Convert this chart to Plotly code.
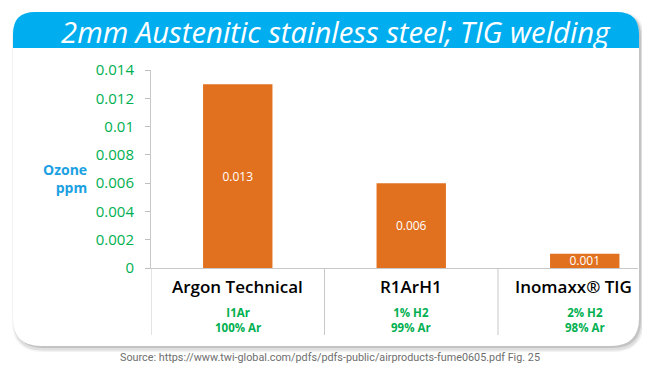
import plotly.graph_objects as go

categories = ["Argon Technical", "R1ArH1", "Inomaxx® TIG"]
sub_line1 = ["I1Ar", "1% H2", "2% H2"]
sub_line2 = ["100% Ar", "99% Ar", "98% Ar"]
ozone_ppm = [0.013, 0.006, 0.001]
bar_labels = ["0.013", "0.006", "0.001"]
y_ticks = [0, 0.002, 0.004, 0.006, 0.008, 0.01, 0.012, 0.014]
y_ticktext = ["0", "0.002", "0.004", "0.006", "0.008", "0.01", "0.012", "0.014"]

OFF = 8  # page body margin
W, H = 650 - OFF, 376 - OFF
PL, PR, PT, PB = 151, 638, 70, 268
L, R, T, B = PL - OFF, PR - OFF, PT - OFF, PB - OFF

def px(x):
    return (x - PL) / (PR - PL)

def py(y):
    return (PB - y) / (PB - PT)

def rrect(x0, y0, x1, y1, rt, rb):
    pts = [
        f"M {px(x0+rt)} {py(y0)}",
        f"L {px(x1-rt)} {py(y0)}",
        f"Q {px(x1)} {py(y0)} {px(x1)} {py(y0+rt)}",
        f"L {px(x1)} {py(y1-rb)}",
        f"Q {px(x1)} {py(y1)} {px(x1-rb)} {py(y1)}",
        f"L {px(x0+rb)} {py(y1)}",
        f"Q {px(x0)} {py(y1)} {px(x0)} {py(y1-rb)}",
        f"L {px(x0)} {py(y0+rt)}",
        f"Q {px(x0)} {py(y0)} {px(x0+rt)} {py(y0)}",
        "Z",
    ]
    return " ".join(pts)

fig = go.Figure()
fig.add_trace(go.Bar(
    x=[0, 1, 2], y=ozone_ppm, width=0.4,
    marker=dict(color="#E2711F", line=dict(width=0)),
    text=bar_labels, textposition="inside", insidetextanchor="middle",
    textfont=dict(color="white", size=12, family="Open Sans"),
    hoverinfo="skip",
))

shapes = []
for dx, dy, grow, a in [(2, 3, 3, 0.05), (2, 3, 1.5, 0.08), (2, 2, 0, 0.12)]:
    shapes.append(dict(type="path", xref="paper", yref="paper", layer="below",
                       path=rrect(13 + dx - grow, 12 + dy - grow, 639 + dx + grow, 346 + dy + grow, 22 + grow, 28 + grow),
                       fillcolor=f"rgba(0,0,0,{a})", line=dict(width=0)))
shapes.append(dict(type="path", xref="paper", yref="paper", layer="below",
                   path=rrect(13, 12, 639, 346, 22, 28),
                   fillcolor="white", line=dict(width=0)))
hdr = (f"M {px(13)} {py(48)} L {px(13)} {py(34)} Q {px(13)} {py(12)} {px(35)} {py(12)} "
       f"L {px(617)} {py(12)} Q {px(639)} {py(12)} {px(639)} {py(34)} L {px(639)} {py(48)} Z")
shapes.append(dict(type="path", xref="paper", yref="paper", layer="below",
                   path=hdr, fillcolor="#00AEEF", line=dict(width=0)))
for xv in [-0.5, 0.5, 1.5]:
    shapes.append(dict(type="line", xref="x", yref="paper", x0=xv, x1=xv,
                       y0=py(268), y1=py(335), line=dict(color="#C8C8C8", width=1)))

annotations = []
annotations.append(dict(xref="paper", yref="paper", x=px(336), y=py(32), xanchor="center", yanchor="middle",
                        text="<i>2mm Austenitic stainless steel; TIG welding</i>", showarrow=False,
                        font=dict(family="Open Sans", size=29.3, color="white")))
annotations.append(dict(xref="paper", yref="paper", x=px(89), y=py(178), xanchor="right", yanchor="middle",
                        text="<b>Ozone<br>ppm</b>", align="right", showarrow=False,
                        font=dict(family="Open Sans", size=14, color="#1BA1E2")))
for i, c in enumerate(categories):
    annotations.append(dict(xref="x", yref="paper", x=i, y=py(286), xanchor="center", yanchor="middle",
                            text=c, showarrow=False, xshift=(-11 if i == 2 else 0),
                            font=dict(family="Open Sans", size=17, color="black", weight=600)))
    annotations.append(dict(xref="x", yref="paper", x=i, y=py(320), xanchor="center", yanchor="middle",
                            text=f"<b>{sub_line1[i]}<br>{sub_line2[i]}</b>", showarrow=False,
                            font=dict(family="Open Sans", size=11.5, color="#00B050")))
annotations.append(dict(xref="paper", yref="paper", x=px(330), y=py(357), xanchor="center", yanchor="middle",
                        text="Source: https://www.twi-global.com/pdfs/pdfs-public/airproducts-fume0605.pdf Fig. 25",
                        showarrow=False, font=dict(family="Roboto", size=10.8, color="#6E6E6E")))

fig.update_layout(
    width=W, height=H,
    margin=dict(l=L, r=W - R, t=T, b=H - B, pad=0),
    paper_bgcolor="white", plot_bgcolor="rgba(0,0,0,0)",
    showlegend=False,
    shapes=shapes, annotations=annotations,
    uniformtext=dict(minsize=12, mode="show"),
    xaxis=dict(range=[-0.5, 2.307],
               showticklabels=False, ticks="", showgrid=False, zeroline=False,
               showline=True, linecolor="#C8C8C8", linewidth=1, fixedrange=True),
    yaxis=dict(range=[0, 0.014], tickvals=y_ticks, ticktext=y_ticktext,
               ticks="outside", ticklen=5, tickcolor="#BFBFBF", ticklabelstandoff=8,
               tickfont=dict(family="Open Sans", size=15, color="#00B050"),
               showgrid=False, zeroline=False, showline=True, linecolor="#C8C8C8", linewidth=1),
)

fig.write_html("out.html")
